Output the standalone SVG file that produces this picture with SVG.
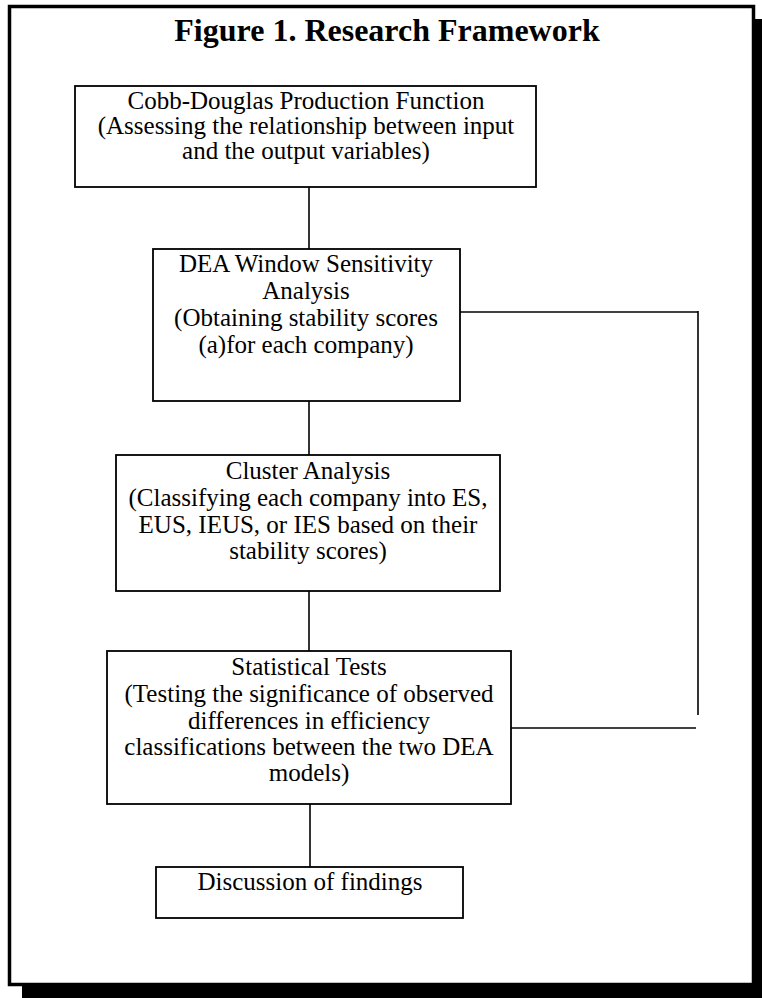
<svg xmlns="http://www.w3.org/2000/svg" width="762" height="998" viewBox="0 0 762 998">
<style>
.box{fill:#fff;stroke:#000;stroke-width:1.8}
.t{font-family:"Liberation Serif","Times New Roman",serif;font-size:25px;fill:#000;text-anchor:middle}
.title{font-family:"Liberation Serif","Times New Roman",serif;font-size:32px;font-weight:bold;fill:#000;text-anchor:middle}
.c{stroke:#000;stroke-width:1.6;fill:none}
</style>
<rect x="0" y="0" width="762" height="998" fill="#fff"/>
<rect x="22" y="19" width="745" height="985" fill="#000"/>
<rect x="9.5" y="6.5" width="744" height="978" fill="#fff" stroke="#000" stroke-width="3.5"/>
<text class="title" x="387" y="41">Figure 1. Research Framework</text>
<g id="connectors">
<line class="c" x1="309" y1="187" x2="309" y2="249"/>
<line class="c" x1="309" y1="401" x2="309" y2="455"/>
<line class="c" x1="309" y1="591" x2="309" y2="651"/>
<line class="c" x1="310" y1="804" x2="310" y2="867"/>
<line class="c" x1="460" y1="312" x2="698" y2="312"/>
<line class="c" x1="698" y1="311" x2="698" y2="715"/>
<line class="c" x1="511" y1="728" x2="696" y2="728"/>
</g>
<g id="n1">
<rect class="box" x="75" y="86" width="461" height="101"/>
<text class="t" x="306" y="109">Cobb-Douglas Production Function</text>
<text class="t" x="306" y="134">(Assessing the relationship between input</text>
<text class="t" x="306" y="159">and the output variables)</text>
</g>
<g id="n2">
<rect class="box" x="153" y="249" width="307" height="152"/>
<text class="t" x="306" y="272">DEA Window Sensitivity</text>
<text class="t" x="306" y="299">Analysis</text>
<text class="t" x="306" y="326">(Obtaining stability scores</text>
<text class="t" x="306" y="353">(a)for each company)</text>
</g>
<g id="n3">
<rect class="box" x="116" y="455" width="384" height="136"/>
<text class="t" x="308" y="479">Cluster Analysis</text>
<text class="t" x="308" y="506">(Classifying each company into ES,</text>
<text class="t" x="308" y="533">EUS, IEUS, or IES based on their</text>
<text class="t" x="308" y="559">stability scores)</text>
</g>
<g id="n4">
<rect class="box" x="107" y="651" width="404" height="153"/>
<text class="t" x="309" y="675">Statistical Tests</text>
<text class="t" x="309" y="702">(Testing the significance of observed</text>
<text class="t" x="309" y="729">differences in efficiency</text>
<text class="t" x="309" y="755">classifications between the two DEA</text>
<text class="t" x="309" y="781">models)</text>
</g>
<g id="n5">
<rect class="box" x="156" y="867" width="307" height="51"/>
<text class="t" x="310" y="890">Discussion of findings</text>
</g>
</svg>
